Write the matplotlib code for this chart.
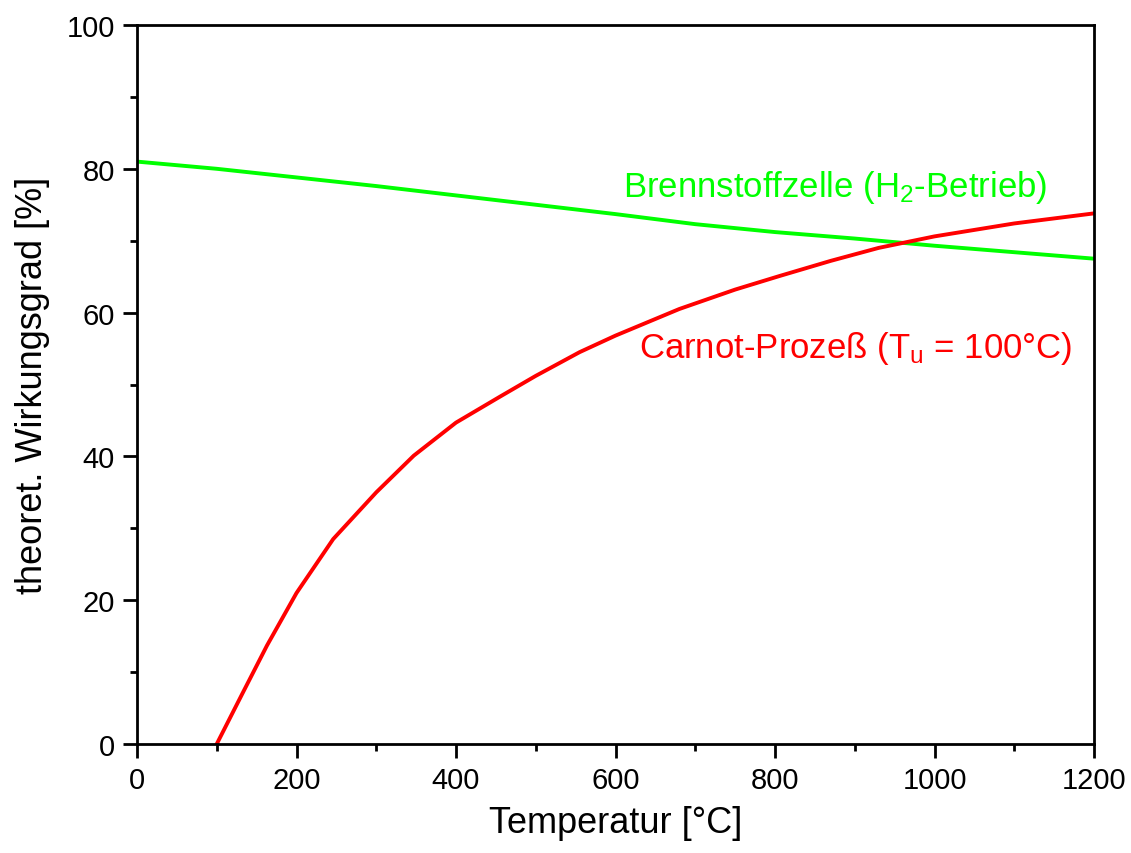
import matplotlib
matplotlib.use("Agg")
import matplotlib.pyplot as plt
from matplotlib.ticker import MultipleLocator

plt.rcParams['font.family'] = ['Liberation Sans', 'DejaVu Sans']
plt.rcParams['mathtext.fontset'] = 'custom'
plt.rcParams['mathtext.rm'] = 'Liberation Sans'
plt.rcParams['mathtext.it'] = 'Liberation Sans:italic'

# Data
fc_T = [0, 100, 200, 300, 400, 500, 600, 700, 800, 900, 1000, 1100, 1200]
fc_eta = [81.0, 80.0, 78.8, 77.6, 76.3, 75.0, 73.7, 72.3, 71.2, 70.3, 69.3, 68.4, 67.5]

carnot_T = [100, 133, 163, 200, 246, 300, 347, 400, 455, 500, 555, 600, 680, 750,
            806, 870, 930, 1000, 1100, 1200]
carnot_eta = [0.0, 7.2, 13.7, 21.0, 28.5, 35.0, 40.1, 44.7, 48.3, 51.2, 54.5, 56.8, 60.5, 63.2,
              65.1, 67.2, 69.0, 70.6, 72.4, 73.8]

fig = plt.figure(figsize=(11.31, 8.54), dpi=100)
ax = fig.add_axes([137/1131, 1-745/854, (1094-137)/1131, (745-26)/854])

ax.plot(fc_T, fc_eta, color='#00ff00', lw=2.8, solid_joinstyle='round')
ax.plot(carnot_T, carnot_eta, color='#ff0000', lw=2.8, solid_joinstyle='round')

ax.set_xlim(0, 1200)
ax.set_ylim(0, 100)
ax.xaxis.set_major_locator(MultipleLocator(200))
ax.xaxis.set_minor_locator(MultipleLocator(100))
ax.yaxis.set_major_locator(MultipleLocator(20))
ax.yaxis.set_minor_locator(MultipleLocator(10))
ax.tick_params(which='both', direction='out', width=2.0, labelsize=21, top=False, right=False)
ax.tick_params(which='major', length=10, pad=6)
ax.tick_params(which='minor', length=5)
for s in ax.spines.values():
    s.set_linewidth(2.0)

ax.set_xlabel('Temperatur [°C]', fontsize=26, labelpad=8)
ax.set_ylabel('theoret. Wirkungsgrad [%]', fontsize=26, labelpad=12)

ax.text(609, 76.2, 'Brennstoffzelle (H$_2$-Betrieb)', color='#00ff00', fontsize=25, ha='left', va='baseline')
ax.text(629, 53.8, r'Carnot-Prozeß (T$_\mathrm{u}$ = 100°C)', color='#ff0000', fontsize=25, ha='left', va='baseline')

fig.savefig('out.png', dpi=100)
